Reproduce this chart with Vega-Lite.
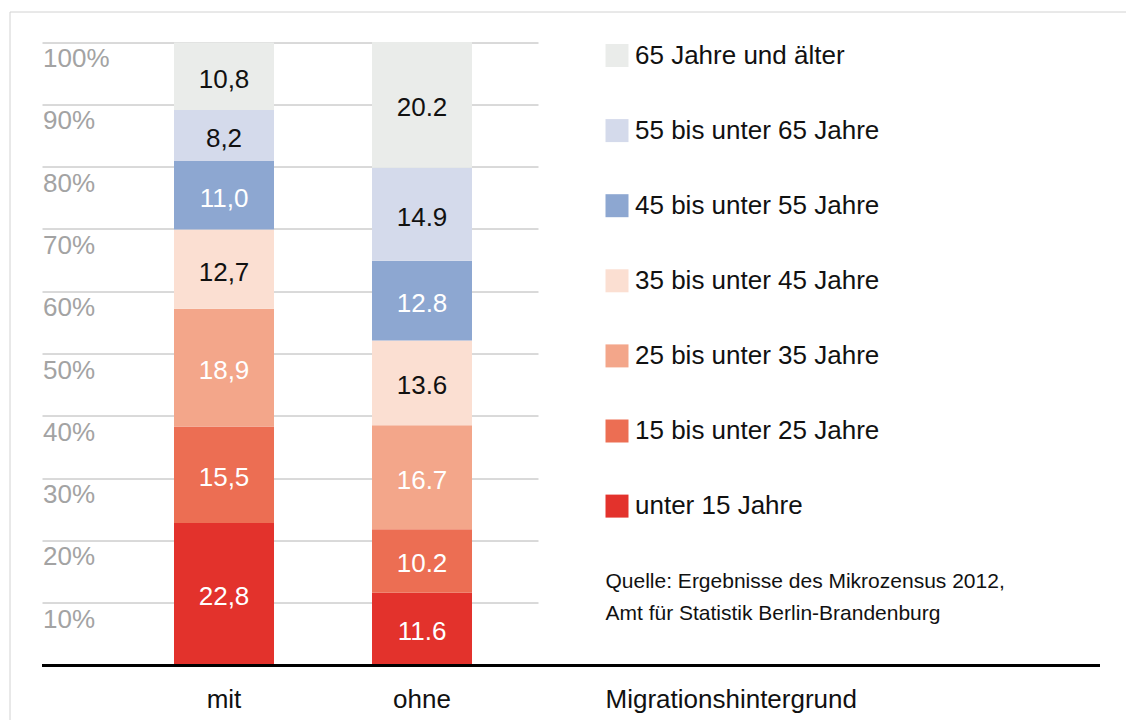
{
  "$schema": "https://vega.github.io/schema/vega-lite/v6.json",
  "autosize": {"type": "none"},
  "padding": {"left": 9.5, "top": 11.5, "right": -1.5, "bottom": -1.5},
  "width": 1118,
  "height": 710,
  "background": "white",
  "config": {
    "font": "Liberation Sans",
    "view": {"stroke": "#d2d2d2", "strokeWidth": 1}
  },
  "title": {
    "text": ["Quelle: Ergebnisse des Mikrozensus 2012,", "Amt für Statistik Berlin-Brandenburg"],
    "orient": "top",
    "anchor": "start",
    "frame": "group",
    "offset": 0,
    "dx": 596,
    "dy": 612,
    "baseline": "top",
    "align": "left",
    "fontSize": 21,
    "fontWeight": "normal",
    "font": "Liberation Sans",
    "color": "#111111",
    "lineHeight": 32
  },
  "data": {
    "values": [
      {"Migrationshintergrund": "mit", "Altersgruppe": "unter 15 Jahre", "Rang": 1, "Anteil": 22.8, "Beschriftung": "22,8"},
      {"Migrationshintergrund": "mit", "Altersgruppe": "15 bis unter 25 Jahre", "Rang": 2, "Anteil": 15.5, "Beschriftung": "15,5"},
      {"Migrationshintergrund": "mit", "Altersgruppe": "25 bis unter 35 Jahre", "Rang": 3, "Anteil": 18.9, "Beschriftung": "18,9"},
      {"Migrationshintergrund": "mit", "Altersgruppe": "35 bis unter 45 Jahre", "Rang": 4, "Anteil": 12.7, "Beschriftung": "12,7"},
      {"Migrationshintergrund": "mit", "Altersgruppe": "45 bis unter 55 Jahre", "Rang": 5, "Anteil": 11.0, "Beschriftung": "11,0"},
      {"Migrationshintergrund": "mit", "Altersgruppe": "55 bis unter 65 Jahre", "Rang": 6, "Anteil": 8.2, "Beschriftung": "8,2"},
      {"Migrationshintergrund": "mit", "Altersgruppe": "65 Jahre und älter", "Rang": 7, "Anteil": 10.8, "Beschriftung": "10,8"},
      {"Migrationshintergrund": "ohne", "Altersgruppe": "unter 15 Jahre", "Rang": 1, "Anteil": 11.6, "Beschriftung": "11.6"},
      {"Migrationshintergrund": "ohne", "Altersgruppe": "15 bis unter 25 Jahre", "Rang": 2, "Anteil": 10.2, "Beschriftung": "10.2"},
      {"Migrationshintergrund": "ohne", "Altersgruppe": "25 bis unter 35 Jahre", "Rang": 3, "Anteil": 16.7, "Beschriftung": "16.7"},
      {"Migrationshintergrund": "ohne", "Altersgruppe": "35 bis unter 45 Jahre", "Rang": 4, "Anteil": 13.6, "Beschriftung": "13.6"},
      {"Migrationshintergrund": "ohne", "Altersgruppe": "45 bis unter 55 Jahre", "Rang": 5, "Anteil": 12.8, "Beschriftung": "12.8"},
      {"Migrationshintergrund": "ohne", "Altersgruppe": "55 bis unter 65 Jahre", "Rang": 6, "Anteil": 14.9, "Beschriftung": "14.9"},
      {"Migrationshintergrund": "ohne", "Altersgruppe": "65 Jahre und älter", "Rang": 7, "Anteil": 20.2, "Beschriftung": "20.2"}
    ]
  },
  "resolve": {"scale": {"x": "independent", "y": "independent"}},
  "layer": [
    {
      "mark": {"type": "bar"},
      "encoding": {
        "x": {
          "field": "Migrationshintergrund", "type": "nominal",
          "scale": {"type": "band", "domain": ["mit", "ohne"], "range": [32.5, 528.5], "paddingInner": 0.49495, "paddingOuter": 0.5, "align": 0.6667},
          "axis": {
            "orient": "bottom", "offset": -56.5, "domain": false, "ticks": false, "tickSize": 0,
            "labelFontSize": 26, "labelColor": "#111111", "labelPadding": 21, "labelAngle": 0, "labelBaseline": "top",
            "title": "Migrationshintergrund", "titleX": 595.5, "titleY": 21, "titleAlign": "left", "titleAnchor": "start",
            "titleBaseline": "top", "titleFontSize": 26, "titleFontWeight": "normal", "titleColor": "#111111", "titlePadding": 0
          }
        },
        "y": {
          "field": "Anteil", "type": "quantitative", "stack": "zero",
          "scale": {"domain": [0, 100], "range": [653.5, 30.5], "nice": false},
          "axis": {
            "orient": "left", "values": [10, 20, 30, 40, 50, 60, 70, 80, 90, 100],
            "labelExpr": "datum.value + '%'",
            "grid": true, "gridColor": "#b4b4b4", "gridWidth": 1,
            "domain": false, "ticks": false, "tickSize": 0,
            "labelAlign": "left", "labelBaseline": "top", "labelPadding": -33, "labelOffset": 3.5,
            "labelFontSize": 26, "labelColor": "#a3a3a3", "title": null
          }
        },
        "color": {
          "field": "Altersgruppe", "type": "nominal",
          "scale": {
            "domain": ["65 Jahre und älter", "55 bis unter 65 Jahre", "45 bis unter 55 Jahre", "35 bis unter 45 Jahre", "25 bis unter 35 Jahre", "15 bis unter 25 Jahre", "unter 15 Jahre"],
            "range": ["#eaecea", "#d4daeb", "#8da7d1", "#fbdfd2", "#f3a68a", "#ec6e53", "#e3322c"]
          },
          "legend": {
            "orient": "none", "legendX": 594.5, "legendY": 31, "title": null, "padding": 0,
            "symbolType": "square", "symbolSize": 529, "symbolStrokeWidth": 0, "symbolOpacity": 1,
            "labelFontSize": 26, "labelColor": "#111111", "labelOffset": 5, "rowPadding": 49.1, "labelLimit": 600
          }
        },
        "order": {"field": "Rang", "type": "quantitative"}
      }
    },
    {
      "mark": {"type": "text", "fontSize": 26, "baseline": "middle", "align": "center", "dy": 3.5},
      "encoding": {
        "x": {
          "field": "Migrationshintergrund", "type": "nominal",
          "scale": {"type": "band", "domain": ["mit", "ohne"], "range": [32.5, 528.5], "paddingInner": 0.49495, "paddingOuter": 0.5, "align": 0.6667},
          "axis": null
        },
        "y": {
          "field": "Anteil", "type": "quantitative", "stack": "zero", "bandPosition": 0.5,
          "scale": {"domain": [0, 100], "range": [653.5, 30.5], "nice": false},
          "axis": null
        },
        "detail": {"field": "Altersgruppe", "type": "nominal"},
        "order": {"field": "Rang", "type": "quantitative"},
        "text": {"field": "Beschriftung", "type": "nominal"},
        "color": {
          "condition": {"test": "indexof(['65 Jahre und älter', '55 bis unter 65 Jahre', '35 bis unter 45 Jahre'], datum.Altersgruppe) >= 0", "value": "#111111"},
          "value": "#ffffff"
        }
      }
    },
    {
      "mark": {"type": "rule", "color": "#000000", "strokeWidth": 3},
      "encoding": {
        "x": {"datum": 0, "type": "quantitative", "scale": {"domain": [0, 1], "range": [32.5, 1090.5], "nice": false, "zero": false}, "axis": null},
        "x2": {"datum": 1},
        "y": {"datum": 0, "type": "quantitative", "scale": {"domain": [0, 100], "range": [654, 30.5], "nice": false}, "axis": null}
      }
    }
  ]
}
